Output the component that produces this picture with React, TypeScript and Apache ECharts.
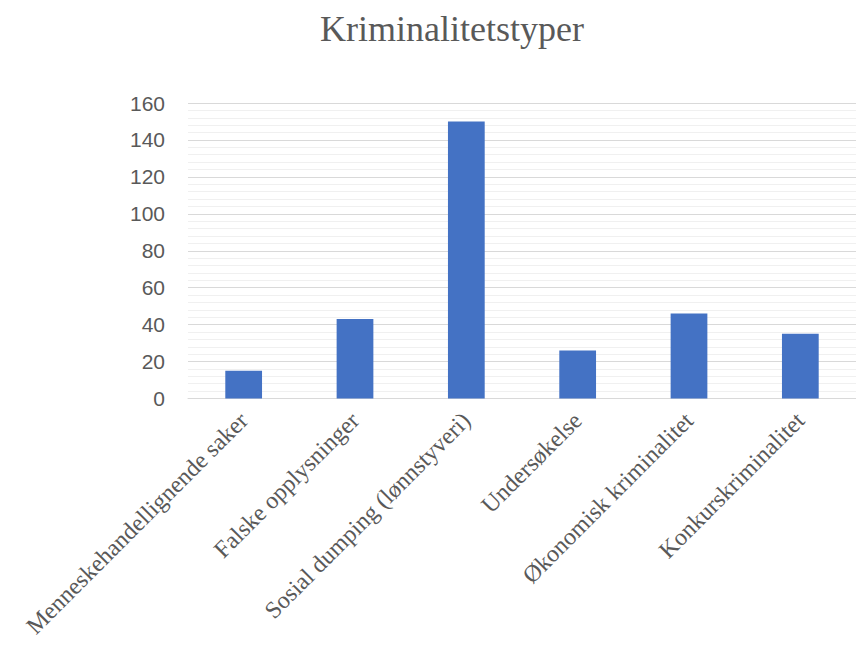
import React, { useEffect, useRef } from "react";
import * as echarts from "echarts";

const categories = [
  "Menneskehandellignende saker",
  "Falske opplysninger",
  "Sosial dumping (lønnstyveri)",
  "Undersøkelse",
  "Økonomisk kriminalitet",
  "Konkurskriminalitet",
];
const values = [15, 43, 150, 26, 46, 35];
const titleText = "Kriminalitetstyper";

export default function App() {
  const ref = useRef<HTMLDivElement>(null);
  useEffect(() => {
    if (!ref.current) return;
    const chart = echarts.init(ref.current, null, { renderer: "svg" });
    chart.setOption({
      animation: false,
      backgroundColor: "#ffffff",
      graphic: [
        {
          type: "text",
          x: 452,
          y: 29,
          style: {
            text: titleText,
            font: '36px "Liberation Serif", serif',
            fill: "#595959",
            align: "center",
            verticalAlign: "middle",
          },
        },
      ],
      grid: { left: 188, right: 0, top: 103, bottom: 247.5 },
      xAxis: {
        type: "category",
        data: categories,
        axisLine: { lineStyle: { color: "#d9d9d9", width: 1 } },
        axisTick: { show: false },
        axisLabel: {
          rotate: 45,
          interval: 0,
          margin: 18,
          color: "#595959",
          fontFamily: '"Liberation Serif", serif',
          fontSize: 24,
        },
      },
      yAxis: {
        type: "value",
        min: 0,
        max: 160,
        interval: 20,
        axisLine: { show: false },
        axisTick: { show: false },
        axisLabel: {
          margin: 23,
          color: "#595959",
          fontFamily: '"Liberation Sans", sans-serif',
          fontSize: 21,
        },
        splitLine: { lineStyle: { color: "#d9d9d9", width: 1 } },
        minorTick: { show: false, splitNumber: 5 },
        minorSplitLine: { show: true, lineStyle: { color: "#f0f0f0", width: 1 } },
      },
      series: [
        {
          type: "bar",
          data: values,
          barWidth: "33%",
          itemStyle: { color: "#4472c4" },
        },
      ],
    });
    return () => chart.dispose();
  }, []);
  return (
    <div
      ref={ref}
      style={{ position: "absolute", left: 0, top: 0, width: 856, height: 646 }}
    />
  );
}
